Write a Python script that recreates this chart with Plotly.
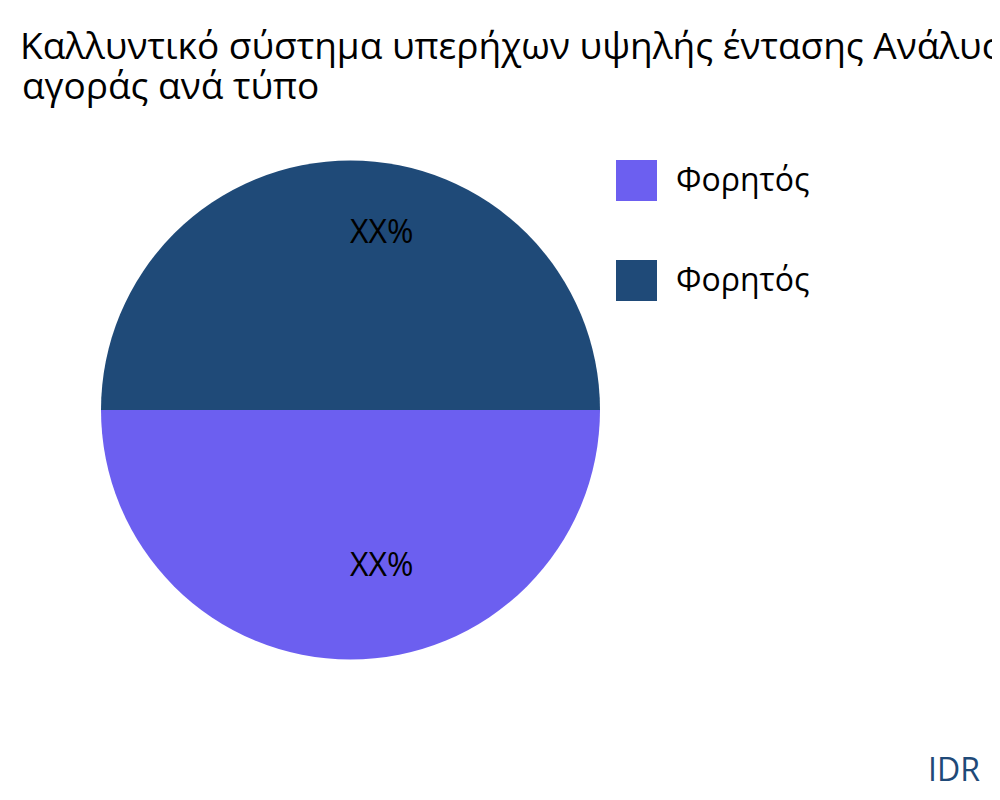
import plotly.graph_objects as go

labels = ["Φορητός", "Φορητός\u200b"]
legend_names = ["Φορητός", "Φορητός"]
values = [50, 50]
text_labels = ["XX%", "XX%"]
colors = ["#6c5ff0", "#1f4a78"]
title_lines = ["Καλλυντικό σύστημα υπερήχων υψηλής έντασης Ανάλυση μεριδίου",
               "αγοράς ανά τύπο"]

FONT = "Open Sans"
W, H = 1000, 800
OFF = 8  # page offset of the figure inside the browser


def px(x):
    return (x - OFF) / W


def py(y):
    return 1 - (y - OFF) / H


fig = go.Figure()
fig.add_trace(go.Pie(
    labels=labels,
    values=values,
    textinfo="none",
    marker=dict(colors=colors, line=dict(width=0)),
    sort=False,
    direction="clockwise",
    rotation=90,
    domain=dict(x=[px(101), px(600)], y=[py(660), py(160)]),
    showlegend=False,
    hoverinfo="none",
))

# slice labels
for txt, yy in zip(text_labels, [563, 230]):
    fig.add_annotation(xref="paper", yref="paper", x=px(381), y=py(yy),
                       text=txt, showarrow=False, xanchor="center", yanchor="middle",
                       font=dict(family=FONT, size=32, color="#000000"))

# manual legend with large swatches
for i, (name, col) in enumerate(zip(legend_names, colors)):
    y_top = 160 + 100 * i
    y_bot = 201 + 100 * i
    fig.add_shape(type="rect", xref="paper", yref="paper",
                  x0=px(616), x1=px(657), y0=py(y_bot), y1=py(y_top),
                  fillcolor=col, line=dict(width=0))
    fig.add_annotation(xref="paper", yref="paper", x=px(674),
                       y=py((y_top + y_bot) / 2 - 2), text=name, showarrow=False,
                       xanchor="left", yanchor="middle",
                       font=dict(family=FONT, size=32, color="#000000"))

fig.add_annotation(xref="paper", yref="paper", x=px(982), y=py(768),
                   text="IDR", showarrow=False, xanchor="right", yanchor="middle",
                   font=dict(family=FONT, size=32, color="#1f4a78"))

# second title line
fig.add_annotation(xref="paper", yref="paper", x=px(20), y=py(85),
                   text=title_lines[1], showarrow=False, xanchor="left",
                   yanchor="middle",
                   font=dict(family=FONT, size=37, color="#000000"))

fig.update_layout(
    width=W, height=H,
    margin=dict(l=0, r=0, t=0, b=0),
    paper_bgcolor="white", plot_bgcolor="white",
    title=dict(text=title_lines[0],
               x=px(20), xanchor="left", xref="paper",
               y=py(46), yanchor="middle", yref="container",
               font=dict(family=FONT, size=37, color="#000000")),
    font=dict(family=FONT),
)

fig.write_html("out.html")
